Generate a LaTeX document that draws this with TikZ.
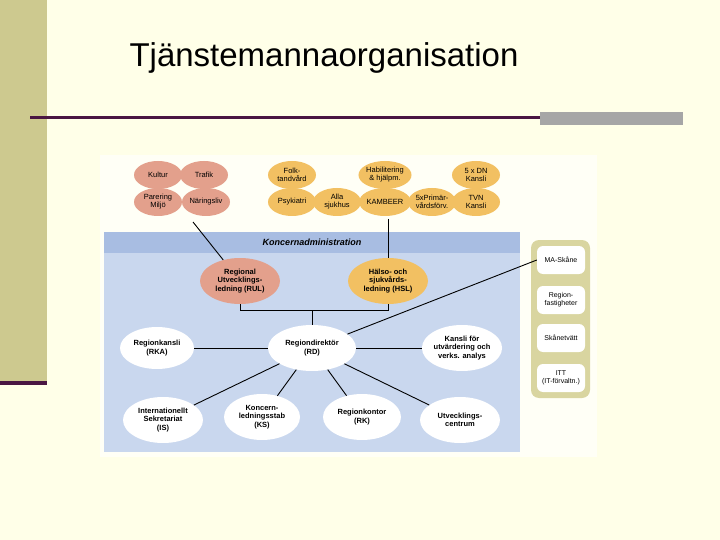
\documentclass[tikz,border=0pt]{standalone}
\usepackage{fontspec}
\setmainfont{Liberation Sans}
\begin{document}
\begin{tikzpicture}[x=1pt,y=-1pt,
 ov/.style={ellipse,inner sep=0pt,align=center,font=\fontsize{7.5}{8}\selectfont},
 pink/.style={ov,fill=pinkc,minimum width=48,minimum height=28},
 orng/.style={ov,fill=orc,minimum width=48,minimum height=28},
 wh/.style={ov,fill=white,font=\fontsize{7.5}{8.5}\selectfont\bfseries},
 rb/.style={fill=white,rounded corners=6,minimum width=48,minimum height=28,inner sep=0pt,align=center,font=\fontsize{7}{8}\selectfont},
 ln/.style={draw=black,line width=0.9pt}]
\usetikzlibrary{shapes.geometric}
\definecolor{bg}{HTML}{FFFFE8}
\definecolor{kh}{HTML}{CDC98F}
\definecolor{pur}{HTML}{4A1642}
\definecolor{pinkc}{HTML}{E3A08C}
\definecolor{orc}{HTML}{F2C062}
\definecolor{blu}{HTML}{C9D7EE}
\definecolor{bluh}{HTML}{A8BDE2}
\definecolor{pan}{HTML}{D9D5A0}
\useasboundingbox (0,0) rectangle (720,540);
\fill[bg] (0,0) rectangle (720,540);
\fill[kh] (0,0) rectangle (47,383);
\fill[pur] (0,381) rectangle (47,385);
\node[anchor=west,font=\fontsize{33}{36}\selectfont] (title) at (126,58) {Tjänstemannaorganisation};
\fill[pur] (30,116) rectangle (540,119);
\fill[gray!70] (540,112) rectangle (683,125);
\fill[white!60!bg] (100,155) rectangle (597,457);
\fill[blu] (104,232) rectangle (520,452);
\fill[bluh] (104,232) rectangle (520,253);
\node[font=\fontsize{9}{10}\selectfont\bfseries\itshape] (ka) at (312,242) {Koncernadministration};
\fill[pan,rounded corners=8] (531,240) rectangle (590,398);
\node[rb] (ma) at (561,260) {MA-Skåne};
\node[rb] (rf) at (561,300) {Region-\\fastigheter};
\node[rb] (sk) at (561,338) {Skånetvätt};
\node[rb] (it) at (561,378) {ITT\\(IT-förvaltn.)};
\node[pink] (ku) at (158,175) {Kultur};
\node[pink] (tr) at (204,175) {Trafik};
\node[pink] (pm) at (158,202) {Parering\\Miljö};
\node[pink] (na) at (206,202) {Näringsliv};
\node[orng] (ft) at (292,175) {Folk-\\tandvård};
\node[orng] (ps) at (292,202) {Psykiatri};
\node[orng] (as) at (337,202) {Alla\\sjukhus};
\node[orng] (hb) at (385,175) {Habilitering\\\& hjälpm.};
\node[orng] (km) at (385,202) {KAMBEER};
\node[orng] (pr) at (432,202) {5xPrimär-\\vårdsförv.};
\node[orng] (dn) at (476,175) {5 x DN\\Kansli};
\node[orng] (tv) at (476,202) {TVN\\Kansli};
\node[ov,fill=pinkc,minimum width=80,minimum height=46,font=\fontsize{7.5}{8.5}\selectfont\bfseries] (rul) at (240,281) {Regional\\Utvecklings-\\ledning (RUL)};
\node[ov,fill=orc,minimum width=80,minimum height=46,font=\fontsize{7.5}{8.5}\selectfont\bfseries] (hsl) at (388,281) {Hälso- och\\sjukvårds-\\ledning (HSL)};
\node[wh,minimum width=88,minimum height=46] (rd) at (312,348) {Regiondirektör\\(RD)};
\node[wh,minimum width=74,minimum height=42] (rka) at (157,348) {Regionkansli\\(RKA)};
\node[wh,minimum width=80,minimum height=46] (kf) at (462,348) {Kansli för\\utvärdering och\\verks. analys};
\node[wh,minimum width=80,minimum height=46] (is) at (163,420) {Internationellt\\Sekretariat\\(IS)};
\node[wh,minimum width=76,minimum height=46] (ks) at (262,417) {Koncern-\\ledningsstab\\(KS)};
\node[wh,minimum width=78,minimum height=46] (rk) at (362,417) {Regionkontor\\(RK)};
\node[wh,minimum width=80,minimum height=46] (uc) at (460,420) {Utvecklings-\\centrum};
\coordinate (t1) at (193,222);
\coordinate (t2) at (388,219);
\coordinate (m1) at (240,310);
\coordinate (m2) at (388,310);
\coordinate (m3) at (312,310);
\draw[ln] (t1) -- (rul);
\draw[ln] (t2) -- (hsl);
\draw[line width=0.6pt] (rul.south) -- (m1) -- (m2) -- (hsl.south);
\draw[line width=0.6pt] (m3) -- (rd.north);
\draw[ln] (rka) -- (rd);
\draw[ln] (rd) -- (kf);
\draw[ln] (rd) -- (ma.west);
\draw[ln] (rd) -- (is);
\draw[ln] (rd) -- (ks);
\draw[ln] (rd) -- (rk);
\draw[ln] (rd) -- (uc);
\end{tikzpicture}
\end{document}
